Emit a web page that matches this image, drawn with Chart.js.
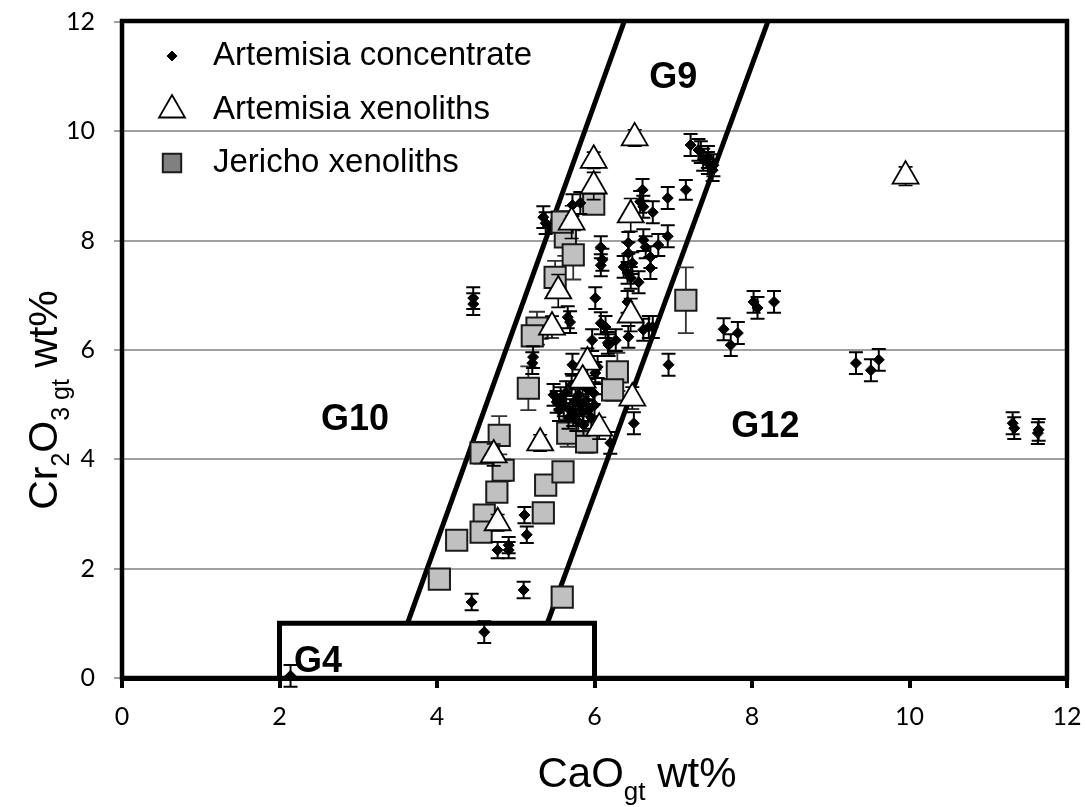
<!DOCTYPE html>
<html><head><meta charset="utf-8">
<script src="https://cdn.jsdelivr.net/npm/chart.js@4"></script>
<style>html,body{margin:0;padding:0;background:#fff}</style>
</head><body>
<canvas id="c" width="1086" height="807"></canvas>
<script>
// ---- data: [CaO, Cr2O3, error] ----
const artemisiaConcentrate = [
 [7.22,9.75,0.2],[7.32,9.66,0.2],[7.35,9.62,0.2],[7.44,9.53,0.2],[7.44,9.42,0.2],[7.50,9.29,0.2],[7.51,9.38,0.2],[7.38,9.48,0.2],
 [7.16,8.93,0.18],[6.93,8.78,0.2],[6.61,8.93,0.2],[6.58,8.71,0.2],[6.62,8.62,0.2],[6.74,8.52,0.2],
 [6.93,8.08,0.2],[6.81,7.92,0.2],[6.62,8.01,0.2],[6.65,7.88,0.2],[6.71,7.70,0.2],[6.71,7.50,0.2],
 [6.43,7.96,0.2],[6.43,7.77,0.2],[6.48,7.59,0.2],[6.37,7.52,0.2],[6.42,7.41,0.2],[6.46,7.32,0.2],
 [6.08,7.88,0.2],[6.10,7.65,0.2],[6.08,7.55,0.2],[6.56,7.24,0.2],[6.01,6.95,0.2],[6.42,6.88,0.2],
 [5.72,8.65,0.2],[5.82,8.69,0.2],[5.35,8.43,0.2],[5.38,8.32,0.2],[4.46,6.95,0.2],[4.46,6.84,0.2],
 [5.66,6.60,0.2],[5.69,6.51,0.2],[6.08,6.49,0.2],[6.14,6.42,0.2],[6.69,6.42,0.2],[6.62,6.37,0.2],
 [6.74,6.42,0.2],[6.43,6.24,0.2],[6.27,6.18,0.2],[6.18,6.09,0.2],[5.97,6.18,0.2],[6.17,6.13,0.2],
 [6.94,5.73,0.2],[5.22,5.87,0.2],[5.21,5.76,0.2],[5.72,5.73,0.2],[6.04,5.69,0.2],[6.01,5.58,0.2],
 [5.99,5.21,0.2],[6.50,4.66,0.2],[6.20,4.30,0.2],
 [5.48,5.18,0.2],[5.52,5.05,0.2],[5.57,5.12,0.2],[5.61,4.99,0.2],[5.64,5.23,0.2],[5.69,4.90,0.2],
 [5.73,4.81,0.2],[5.76,5.08,0.2],[5.80,5.18,0.2],[5.82,4.99,0.2],[5.85,4.87,0.2],[5.89,5.08,0.2],
 [5.92,4.90,0.2],[5.92,5.27,0.2],[5.96,4.76,0.2],[5.77,4.72,0.2],[5.67,4.76,0.2],[5.86,4.63,0.2],
 [5.55,4.90,0.2],[6.00,4.99,0.2],[5.71,5.36,0.2],
 [5.11,2.98,0.15],[5.14,2.62,0.15],[4.77,2.34,0.15],[4.91,2.34,0.15],[4.91,2.43,0.15],
 [4.44,1.39,0.15],[5.10,1.61,0.15],[4.60,0.84,0.2],[2.14,0.04,0.2],
 [8.02,6.88,0.2],[8.07,6.77,0.2],[8.28,6.88,0.2],[7.64,6.38,0.2],[7.82,6.31,0.2],[7.73,6.09,0.2],
 [9.32,5.76,0.2],[9.51,5.63,0.2],[9.61,5.82,0.2],
 [11.31,4.66,0.2],[11.33,4.57,0.2],[11.64,4.54,0.2],[11.63,4.48,0.2]
];
const artemisiaXenoliths = [
 [6.51,9.88,0.15],[5.99,9.47,0.15],[5.99,9.00,0.25],[5.71,8.34,0.3],[6.46,8.47,0.3],[5.54,7.08,0.3],
 [5.46,6.42,0.2],[6.46,6.64,0.3],[5.91,5.78,0.25],[5.85,5.45,0.3],[6.06,4.57,0.2],[6.48,5.12,0.2],
 [5.31,4.30,0.15],[4.72,4.08,0.2],[4.77,2.84,0.15],[9.95,9.18,0.17]
];
const jerichoXenoliths = [
 [5.99,8.67,0.15],[5.63,8.07,0.35],[5.73,7.74,0.45],[5.50,7.33,0.3],[5.59,8.34,0.2],
 [5.27,6.40,0.3],[5.21,6.26,0.15],[5.16,5.30,0.4],[4.79,4.44,0.35],[4.56,4.12,0.2],
 [4.84,3.80,0.2],[4.76,3.40,0.15],[5.38,3.53,0.15],[5.60,3.77,0.15],[5.66,4.48,0.25],
 [5.90,4.32,0.2],[6.29,5.60,0.35],[6.23,5.27,0.2],[5.35,3.02,0.15],[4.60,2.98,0.15],
 [4.56,2.67,0.15],[4.25,2.52,0.15],[4.03,1.81,0.05],[5.59,1.48,0.05],[7.16,6.91,0.6]
];
// field boundaries
const lineG10G9 = [[3.625,1],[6.375,12]];
const lineG9G12 = [[5.4,1],[8.2,12]];
const boxG4 = [[2,0],[2,1],[6,1],[6,0]];
const regionLabels = [['G9',7.0,10.98],['G10',2.96,4.72],['G12',8.17,4.59],['G4',2.49,0.29]];
const legendLabels = ['Artemisia concentrate','Artemisia xenoliths','Jericho xenoliths'];
const xTitle = [['CaO',false],['gt',true],[' wt%',false]];
const yTitle = [['Cr',false],['2',true],['O',false],['3 gt',true],[' wt%',false]];

const toPts = a => a.map(r => ({x:r[0], y:r[1]}));
const toErr = a => a.map(r => r[2]);
const lineDs = pts => ({data: pts.map(p=>({x:p[0],y:p[1]})), showLine:true, borderColor:'#000', borderWidth:5,
  pointRadius:0, pointHoverRadius:0, fill:false, tension:0});

const BASE = '"Liberation Sans", Arial, sans-serif';
const TICKFONT = 'Lato, "Open Sans", sans-serif';

const errorBars = {
  id:'errorBars',
  beforeDatasetDraw(chart, args){
    const ds = chart.data.datasets[args.index];
    if(!ds.errors) return;
    const {ctx, scales:{x, y}} = chart;
    ctx.save();
    ctx.strokeStyle = ds.errorColor; ctx.lineWidth = ds.errorWidth;
    ds.data.forEach((p,i)=>{
      const e = ds.errors[i];
      const px = x.getPixelForValue(p.x);
      const y1 = y.getPixelForValue(p.y - e), y2 = y.getPixelForValue(p.y + e);
      const c = ds.capHalf;
      ctx.beginPath();
      ctx.moveTo(px,y1); ctx.lineTo(px,y2);
      ctx.moveTo(px-c,y1); ctx.lineTo(px+c,y1);
      ctx.moveTo(px-c,y2); ctx.lineTo(px+c,y2);
      ctx.stroke();
    });
    ctx.restore();
  }
};

function drawRich(ctx, parts, cx, baseY, size){
  const fontFor = sub => (sub? Math.round(size*0.62):size)+'px '+BASE;
  let w = 0;
  parts.forEach(([t,sub])=>{ ctx.font = fontFor(sub); w += ctx.measureText(t).width; });
  let x = cx - w/2;
  ctx.textAlign='left'; ctx.textBaseline='alphabetic';
  parts.forEach(([t,sub])=>{
    ctx.font = fontFor(sub);
    ctx.fillText(t, x, sub? baseY + size*0.3 : baseY);
    x += ctx.measureText(t).width;
  });
}

const decor = {
  id:'decor',
  afterDatasetsDraw(chart){
    const {ctx, chartArea:a, scales:{x,y}} = chart;
    ctx.save();
    ctx.strokeStyle='#000'; ctx.lineWidth=4.5;
    ctx.strokeRect(a.left, a.top-1, a.right-a.left, a.bottom-a.top+1);
    ctx.fillStyle='#000'; ctx.font='bold 36px '+BASE; ctx.textAlign='center'; ctx.textBaseline='middle';
    regionLabels.forEach(([t,vx,vy])=> ctx.fillText(t, x.getPixelForValue(vx), y.getPixelForValue(vy)));
    const ds = chart.data.datasets;
    const lx = 172, ly = [56,110,163];
    [1,0,2].forEach((di,k)=>{
      const d = ds[di];
      const st = {pointStyle:d.pointStyle, radius:d.legendRadius, rotation:0, borderWidth:d.borderWidth};
      ctx.fillStyle = d.legendFill || d.backgroundColor; ctx.strokeStyle = d.borderColor; ctx.lineWidth = d.borderWidth;
      Chart.helpers.drawPoint(ctx, st, lx, ly[k]);
      ctx.fillStyle='#000'; ctx.font='33px '+BASE; ctx.textAlign='left'; ctx.textBaseline='middle';
      ctx.fillText(legendLabels[k], 213, ly[k]);
    });
    ctx.fillStyle='#000';
    drawRich(ctx, xTitle, 637, 787, 42);
    ctx.save(); ctx.translate(57, 400); ctx.rotate(-Math.PI/2);
    drawRich(ctx, yTitle, 0, 0, 41);
    ctx.restore();
    ctx.restore();
  }
};

new Chart(document.getElementById('c'), {
  type:'scatter',
  data:{datasets:[
    {label:legendLabels[1], data:toPts(artemisiaXenoliths), errors:toErr(artemisiaXenoliths),
     errorColor:'#000', errorWidth:1.6, capHalf:7,
     pointStyle:'triangle', pointRadius:15, legendRadius:15, backgroundColor:'#fff', borderColor:'#000', borderWidth:1.8},
    {label:legendLabels[0], data:toPts(artemisiaConcentrate), errors:toErr(artemisiaConcentrate),
     errorColor:'#000', errorWidth:2, capHalf:7,
     pointStyle:'rectRot', pointRadius:5.5, legendRadius:5, backgroundColor:'#000', borderColor:'#000', borderWidth:1},
    {label:legendLabels[2], data:toPts(jerichoXenoliths), errors:toErr(jerichoXenoliths),
     errorColor:'#333', errorWidth:1.8, capHalf:8,
     pointStyle:'rect', pointRadius:15, legendRadius:13, backgroundColor:'#c0c0c0', legendFill:'#808080', borderColor:'#1a1a1a', borderWidth:2},
    lineDs(lineG10G9), lineDs(lineG9G12), lineDs(boxG4)
  ]},
  options:{
    responsive:false, animation:false, devicePixelRatio:1,
    layout:{padding:{left:0, right:19, top:22, bottom:0}},
    plugins:{legend:{display:false}, tooltip:{enabled:false}},
    scales:{
      x:{type:'linear', min:0, max:12,
        ticks:{stepSize:2, color:'#000', padding:14, font:{family:TICKFONT, size:25}},
        grid:{drawOnChartArea:false, drawTicks:true, tickLength:10, color:'#000', lineWidth:4},
        border:{display:true, color:'#000', width:5},
        afterFit(s){ s.height = 129; s.paddingLeft = 0; s.paddingRight = 0; }},
      y:{type:'linear', min:0, max:12,
        ticks:{stepSize:2, color:'#000', padding:19, font:{family:TICKFONT, size:25}},
        grid:{color:'#a0a0a0', lineWidth:2, tickLength:8, drawTicks:true},
        border:{display:true, color:'#000', width:4},
        afterFit(s){ s.width = 122; s.paddingTop = 0; s.paddingBottom = 0; }}
    }
  },
  plugins:[errorBars, decor]
});
</script>
</body></html>
